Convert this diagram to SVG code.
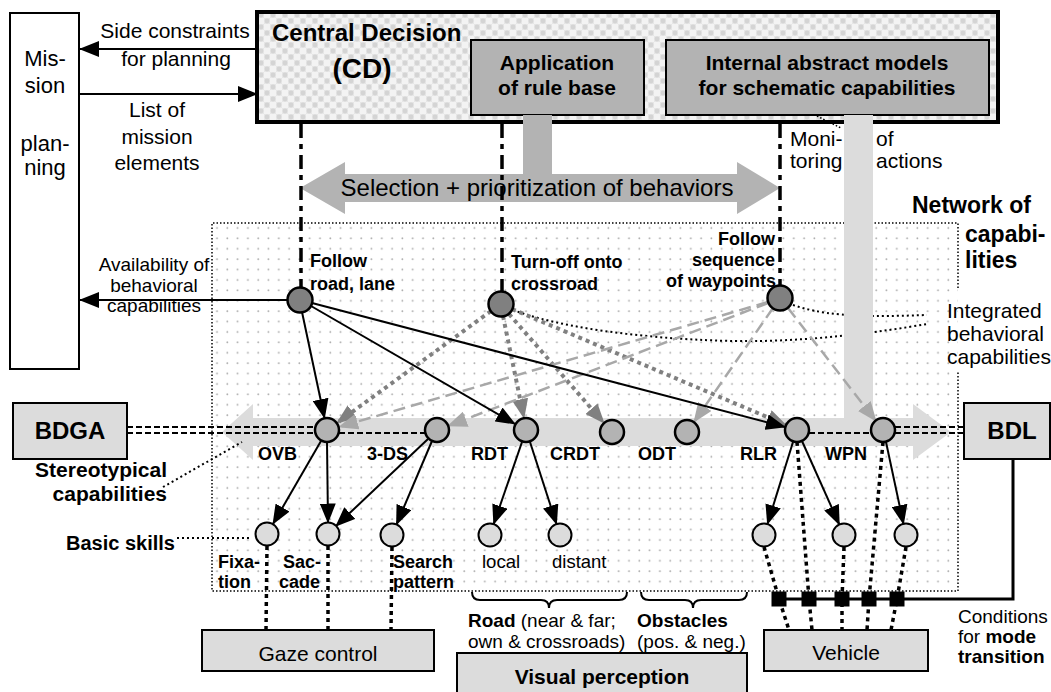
<svg xmlns="http://www.w3.org/2000/svg" width="1051" height="692" viewBox="0 0 1051 692">
<defs>
<style>
text{font-family:'Liberation Sans',Arial,sans-serif;fill:#000}
.b{font-weight:bold}
.m{text-anchor:middle}
.e{text-anchor:end}
.box{fill:#dcdcdc;stroke:#000;stroke-width:2}
.n1{fill:#808080;stroke:#000;stroke-width:2.5}
.n2{fill:#b3b3b3;stroke:#000;stroke-width:2.5}
.n3{fill:#dcdcdc;stroke:#000;stroke-width:2}
.ab{stroke:#000;stroke-width:2;fill:none;marker-end:url(#ahB)}
.ag{stroke:#808080;stroke-width:4;stroke-dasharray:4 4;fill:none;marker-end:url(#ahG)}
.al{stroke:#a8a8a8;stroke-width:2.5;stroke-dasharray:12 6;fill:none;marker-end:url(#ahL)}
.dd{stroke:#000;stroke-width:3.5;stroke-dasharray:14 6 5 6;fill:none}
.hd{stroke:#000;stroke-width:2;stroke-dasharray:6 3;fill:none}
.td{stroke:#000;stroke-width:3.5;stroke-dasharray:4 4;fill:none}
.fd{stroke:#000;stroke-width:2;stroke-dasharray:2 3;fill:none}
</style>
<marker id="ahB" markerUnits="userSpaceOnUse" markerWidth="20" markerHeight="16" refX="19" refY="8" orient="auto"><path d="M0,0 L20,8 L0,16 z" fill="#000"/></marker>
<marker id="ahG" markerUnits="userSpaceOnUse" markerWidth="20" markerHeight="16" refX="19" refY="8" orient="auto"><path d="M0,0 L20,8 L0,16 z" fill="#808080"/></marker>
<marker id="ahL" markerUnits="userSpaceOnUse" markerWidth="20" markerHeight="16" refX="19" refY="8" orient="auto"><path d="M0,0 L20,8 L0,16 z" fill="#a8a8a8"/></marker>
<pattern id="chk" width="12" height="12" patternUnits="userSpaceOnUse">
<rect width="12" height="12" fill="#e6e6e6"/>
<rect width="6" height="6" fill="#f3f3f3"/><rect x="6" y="6" width="6" height="6" fill="#f3f3f3"/>
<circle cx="9" cy="3" r="2.4" fill="#d4d4d4"/><circle cx="3" cy="9" r="2.4" fill="#d4d4d4"/>
</pattern>
<pattern id="dots" width="10.3" height="10.4" patternUnits="userSpaceOnUse" x="212" y="223">
<rect width="10.3" height="10.4" fill="#fff"/><circle cx="5" cy="5" r="0.9" fill="#aaaaaa"/>
</pattern>
</defs>
<rect width="1051" height="692" fill="#fff"/>

<g id="network">
<rect x="212" y="223" width="746" height="368" fill="url(#dots)"/>
<path d="M958,288 V223 H212 V591 H958 V372" fill="none" stroke="#000" stroke-width="1.5" stroke-dasharray="1.5 2"/>
<text x="912" y="213" class="b" font-size="23">Network of</text>
<text x="965" y="242" class="b" font-size="23">capabi-</text>
<text x="965" y="268" class="b" font-size="23">lities</text>
</g>

<g id="integrated-links">
<path class="fd" d="M793,305 C820,314 850,318 927,315"/>
<path class="fd" d="M513,310 C580,335 700,342 760,341 C820,340 880,332 927,324"/>
</g>

<polygon id="band" points="222,432 253,404 253,418 913,418 913,404 951,432 913,460 913,446 253,446 253,460" fill="#dcdcdc"/>

<g id="mission">
<rect x="10" y="13" width="69" height="356" fill="#fff" stroke="#000" stroke-width="2"/>
<text x="45" y="66" class="m" font-size="22">Mis-</text>
<text x="45" y="93" class="m" font-size="22">sion</text>
<text x="45" y="151" class="m" font-size="22">plan-</text>
<text x="45" y="175" class="m" font-size="22">ning</text>
</g>

<g id="cd">
<rect x="257" y="12" width="741" height="110" fill="url(#chk)" stroke="#000" stroke-width="4"/>
<text x="272" y="41" class="b" font-size="24">Central Decision</text>
<text x="362" y="78" class="b m" font-size="28">(CD)</text>
</g>
<g id="rulebase">
<rect x="471" y="40" width="173" height="75" fill="#b3b3b3" stroke="#000" stroke-width="2"/>
<text x="557" y="70" class="b m" font-size="21">Application</text>
<text x="557" y="95" class="b m" font-size="21">of rule base</text>
</g>
<g id="models">
<rect x="666" y="40" width="323" height="75" fill="#b3b3b3" stroke="#000" stroke-width="2"/>
<text x="827" y="70" class="b m" font-size="21">Internal abstract models</text>
<text x="827" y="95" class="b m" font-size="21">for schematic capabilities</text>
</g>

<rect id="bar-rule" x="523" y="115" width="29" height="60" fill="#b3b3b3"/>
<rect id="bar-models" x="844" y="115" width="29" height="305" fill="#dcdcdc"/>

<g id="selection">
<polygon points="300,188 345,162 345,174 737,174 737,162 780,188 737,214 737,202 345,202 345,214" fill="#b3b3b3"/>
<text x="537" y="196" class="m" font-size="24">Selection + prioritization of behaviors</text>
</g>

<g id="monitoring">
<text x="790" y="146" font-size="21">Moni-</text>
<text x="790" y="168" font-size="21">toring</text>
<text x="876" y="146" font-size="21">of</text>
<text x="876" y="168" font-size="21">actions</text>
</g>

<g id="connectors">
<line class="ab" x1="257" y1="49" x2="80" y2="49"/>
<line class="ab" x1="79" y1="94" x2="257" y2="94"/>
<line class="ab" x1="287" y1="300" x2="80" y2="300"/>
<line class="dd" x1="301" y1="124" x2="301" y2="287"/>
<line class="dd" x1="502" y1="124" x2="502" y2="291"/>
<line class="dd" x1="780" y1="124" x2="780" y2="285"/>
<line x1="817" y1="116" x2="841" y2="128" stroke="#000" stroke-width="1.5" stroke-dasharray="1.5 2"/>
<line class="hd" x1="127" y1="427" x2="315" y2="427"/>
<line class="hd" x1="127" y1="433" x2="315" y2="433"/>
<line class="hd" x1="339" y1="433" x2="425" y2="433"/>
<line class="hd" x1="809" y1="433" x2="871" y2="433"/>
<line class="hd" x1="895" y1="427" x2="964" y2="427"/>
<line class="hd" x1="895" y1="433" x2="964" y2="433"/>
<line class="ag" x1="491" y1="311" x2="337" y2="423"/>
<line class="ag" x1="503" y1="316" x2="524" y2="418"/>
<line class="ag" x1="509" y1="314" x2="604" y2="423"/>
<line class="ag" x1="512" y1="309" x2="786" y2="425"/>
<line class="al" x1="768" y1="302" x2="339" y2="427"/>
<line class="al" x1="768" y1="303" x2="448" y2="426"/>
<line class="al" x1="773" y1="308" x2="694" y2="422"/>
<line class="al" x1="788" y1="308" x2="876" y2="421"/>
<line class="ab" x1="302" y1="312" x2="324.5" y2="418"/>
<line class="ab" x1="311" y1="306" x2="515" y2="424"/>
<line class="ab" x1="312" y1="303" x2="785" y2="427"/>
<line class="ab" x1="321" y1="441" x2="273" y2="524"/>
<line class="ab" x1="327" y1="442" x2="328" y2="522.5"/>
<line class="ab" x1="428" y1="439" x2="336" y2="526"/>
<line class="ab" x1="432" y1="441" x2="396.5" y2="524.5"/>
<line class="ab" x1="522" y1="442" x2="493.7" y2="524"/>
<line class="ab" x1="530" y1="442" x2="556.5" y2="524"/>
<line class="ab" x1="793" y1="442" x2="767.5" y2="524"/>
<line class="ab" x1="802" y1="441" x2="839.3" y2="524.5"/>
<line class="ab" x1="886" y1="442" x2="903.5" y2="524"/>
<line class="fd" x1="163" y1="487" x2="242" y2="442" stroke-width="1.8"/>
<line class="fd" x1="177" y1="538" x2="251" y2="538" stroke-width="1.8"/>
<line class="td" x1="267" y1="546" x2="266" y2="630"/>
<line class="td" x1="328" y1="546" x2="328" y2="630"/>
<line class="td" x1="392" y1="547" x2="391" y2="630"/>
<polyline class="td" points="764,547 779,599 789,630"/>
<polyline class="td" points="797,442 809,599 812,630"/>
<polyline class="td" points="844,547 842,599 842,630"/>
<polyline class="td" points="883,442 869,599 867,630"/>
<polyline class="td" points="906,547 897,599 891,630"/>
<polyline points="1013,459 1013,599 772,599" fill="none" stroke="#000" stroke-width="3"/>
<path d="M472,592 Q472,600 480,600 L541,600 Q549,600 549,608 Q549,600 557,600 L619,600 Q627,600 627,592" fill="none" stroke="#000" stroke-width="2"/>
<path d="M641,592 Q641,600 649,600 L685,600 Q693,600 693,608 Q693,600 701,600 L739,600 Q747,600 747,592" fill="none" stroke="#000" stroke-width="2"/>
</g>

<g id="squares" fill="#000">
<rect x="771.5" y="591.5" width="15" height="15"/>
<rect x="801.5" y="591.5" width="15" height="15"/>
<rect x="834.5" y="591.5" width="15" height="15"/>
<rect x="861.5" y="591.5" width="15" height="15"/>
<rect x="889.5" y="591.5" width="15" height="15"/>
</g>

<g id="follow-road"><circle class="n1" cx="300" cy="300" r="12.5"/>
<text x="310" y="267" class="b" font-size="18">Follow</text><text x="310" y="290" class="b" font-size="18">road, lane</text></g>
<g id="turn-off"><circle class="n1" cx="501" cy="304" r="12.5"/>
<text x="511" y="268" class="b" font-size="18">Turn-off onto</text><text x="511" y="290" class="b" font-size="18">crossroad</text></g>
<g id="follow-seq"><circle class="n1" cx="780" cy="298" r="12.5"/>
<text x="775" y="245" class="b e" font-size="18">Follow</text><text x="775" y="266" class="b e" font-size="18">sequence</text><text x="776" y="287" class="b e" font-size="18">of waypoints</text></g>

<g id="ovb"><circle class="n2" cx="327" cy="430" r="12"/><text x="258" y="460" class="b" font-size="18">OVB</text></g>
<g id="ds3"><circle class="n2" cx="437" cy="430" r="12"/><text x="367" y="460" class="b" font-size="18">3-DS</text></g>
<g id="rdt"><circle class="n2" cx="526" cy="430" r="12"/><text x="471" y="460" class="b" font-size="18">RDT</text></g>
<g id="crdt"><circle class="n2" cx="612" cy="432" r="12"/><text x="550" y="460" class="b" font-size="18">CRDT</text></g>
<g id="odt"><circle class="n2" cx="687" cy="432" r="12"/><text x="638" y="460" class="b" font-size="18">ODT</text></g>
<g id="rlr"><circle class="n2" cx="797" cy="430" r="12"/><text x="740" y="460" class="b" font-size="18">RLR</text></g>
<g id="wpn"><circle class="n2" cx="883" cy="430" r="12"/><text x="825" y="460" class="b" font-size="18">WPN</text></g>

<g id="fixation"><circle class="n3" cx="267" cy="534" r="11.5"/><text x="218" y="568" class="b" font-size="18">Fixa-</text><text x="218" y="588" class="b" font-size="18">tion</text></g>
<g id="saccade"><circle class="n3" cx="328" cy="534" r="11.5"/><text x="283" y="568" class="b" font-size="18">Sac-</text><text x="279" y="588" class="b" font-size="18">cade</text></g>
<g id="search"><circle class="n3" cx="392" cy="535" r="11.5"/><text x="393" y="568" class="b" font-size="18">Search</text><text x="393" y="588" class="b" font-size="18">pattern</text></g>
<g id="local"><circle class="n3" cx="490" cy="535" r="11.5"/><text x="482" y="568" font-size="18.5">local</text></g>
<g id="distant"><circle class="n3" cx="560" cy="535" r="11.5"/><text x="552" y="568" font-size="18.5">distant</text></g>
<g id="rlr-a"><circle class="n3" cx="764" cy="535" r="11.5"/></g>
<g id="rlr-b"><circle class="n3" cx="844" cy="535" r="11.5"/></g>
<g id="wpn-a"><circle class="n3" cx="906" cy="535" r="11.5"/></g>

<g id="bdga"><rect class="box" x="13" y="403" width="114" height="56"/><text x="70" y="439" class="b m" font-size="24">BDGA</text></g>
<g id="bdl"><rect class="box" x="964" y="403" width="86" height="56"/><text x="1012" y="439" class="b m" font-size="24">BDL</text></g>
<g id="gaze"><rect class="box" x="202" y="630" width="232" height="41"/><text x="318" y="661" class="m" font-size="21">Gaze control</text></g>
<g id="vehicle"><rect class="box" x="764" y="630" width="164" height="41"/><text x="846" y="660" class="m" font-size="21">Vehicle</text></g>
<g id="visual"><rect class="box" x="457" y="653" width="290" height="50"/><text x="602" y="684" class="b m" font-size="21">Visual perception</text></g>

<g id="labels">
<text x="175" y="38" class="m" font-size="21">Side constraints</text>
<text x="176" y="66" class="m" font-size="21">for planning</text>
<text x="157" y="117" class="m" font-size="21">List of</text>
<text x="157" y="144" class="m" font-size="21">mission</text>
<text x="157" y="170" class="m" font-size="21">elements</text>
<text x="154" y="271" class="m" font-size="19">Availability of</text>
<text x="154" y="292" class="m" font-size="19">behavioral</text>
<text x="154" y="312" class="m" font-size="19">capabilities</text>
<text x="947" y="318" font-size="21">Integrated</text>
<text x="947" y="341" font-size="21">behavioral</text>
<text x="947" y="364" font-size="21">capabilities</text>
<text x="167" y="477" class="b e" font-size="21">Stereotypical</text>
<text x="167" y="501" class="b e" font-size="21">capabilities</text>
<text x="175" y="550" class="b e" font-size="20">Basic skills</text>
<text x="468" y="627" font-size="19"><tspan class="b">Road</tspan> (near &amp; far;</text>
<text x="468" y="648" font-size="19">own &amp; crossroads)</text>
<text x="637" y="627" class="b" font-size="19">Obstacles</text>
<text x="637" y="648" font-size="19">(pos. &amp; neg.)</text>
<text x="958" y="623" font-size="19">Conditions</text>
<text x="958" y="643" font-size="19">for <tspan class="b">mode</tspan></text>
<text x="958" y="663" class="b" font-size="19">transition</text>
</g>
</svg>
